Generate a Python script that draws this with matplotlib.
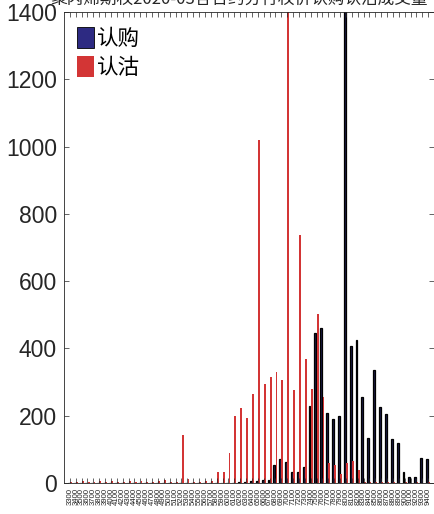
import matplotlib
matplotlib.use("Agg")
import matplotlib.pyplot as plt
from matplotlib.patches import Patch
import numpy as np

plt.rcParams['font.family'] = ['Liberation Sans', 'Noto Sans CJK SC', 'DejaVu Sans']

# strike prices (x categories)
strikes = ['3300', '3400', '3500', '3600', '3700', '3800', '3900', '4000', '4100', '4200',
           '4300', '4400', '4500', '4600', '4700', '4800', '4900', '5000', '5100', '5200',
           '5300', '5400', '5500', '5600', '5700', '5800', '5900', '6000', '6100', '6200',
           '6300', '6400', '6500', '6600', '6700', '6800', '6900', '7000', '7100', '7200',
           '7300', '7400', '7500', '7600', '7700', '7800', '7900', '8000', '8100', '8200',
           '8300', '8400', '8500', '8600', '8700', '8800', '8900', '9000', '9100', '9200',
           '9300', '9400']

# 认购 volume
calls = [0, 0, 0, 0, 0, 0, 0, 0, 0, 0,
         0, 0, 0, 0, 0, 0, 0, 0, 0, 0,
         0, 0, 0, 0, 0, 0, 0, 0, 1, 2,
         3, 5, 6, 8, 10, 53, 70, 63, 33, 33,
         48, 230, 447, 462, 209, 191, 200, 1600, 407, 425,
         257, 135, 336, 226, 206, 130, 118, 33, 18, 18,
         75, 71]

# 认沽 volume
puts = [4, 3, 5, 3, 4, 6, 3, 5, 4, 3,
        5, 4, 6, 3, 4, 5, 9, 4, 3, 143,
        11, 4, 3, 5, 6, 32, 34, 88, 200, 223,
        194, 264, 1020, 293, 316, 329, 307, 1650, 276, 737,
        369, 278, 502, 255, 59, 53, 28, 59, 66, 39,
        3, 2, 4, 2, 3, 2, 1, 2, 1, 2,
        1, 2]

call_color = '#2d2a82'
put_color = '#d33535'
ink = '#262626'

fig = plt.figure(figsize=(4.35, 5.14), dpi=100)
ax = fig.add_axes([64 / 435, 31 / 514, 370 / 435, 471 / 514])

x = np.arange(1, len(strikes) + 1)
w = 0.32
ax.bar(x - 0.19, calls, width=w, color='#1c1a48', edgecolor='black', linewidth=0.9)
ax.bar(x + 0.19, puts, width=w, color=put_color, edgecolor='none')

ax.set_xlim(0, len(strikes) + 1)
ax.set_ylim(0, 1400)
ax.set_yticks(range(0, 1401, 200))
ax.set_xticks(x)
ax.set_xticklabels(strikes, rotation=90, fontsize=5.6)

for s in ax.spines.values():
    s.set_color(ink)
    s.set_linewidth(0.6)
ax.tick_params(direction='in', top=True, right=True, length=3.4, width=0.5,
               colors=ink, labelcolor=ink)
ax.tick_params(axis='y', labelsize=16.5, pad=5)
ax.tick_params(axis='x', pad=3.5)

handles = [Patch(facecolor=call_color, edgecolor='black', linewidth=0.6),
           Patch(facecolor=put_color, edgecolor='none')]
leg = ax.legend(handles, ['认购', '认沽'], loc='upper left',
                bbox_to_anchor=(0.035, 0.968), frameon=False, borderpad=0,
                borderaxespad=0, handlelength=0.8, handleheight=1.1,
                handletextpad=0.15, labelspacing=0.3,
                prop={'family': ['Noto Sans CJK SC'], 'size': 15.5})

fig.text(0.55, 1 - 3.5 / 514, '聚丙烯期权2020-03各合约分行权价认购认沽成交量',
         ha='center', va='baseline', fontsize=12, color=ink,
         family=['Noto Sans CJK SC'])

fig.savefig('out.png', dpi=100)
